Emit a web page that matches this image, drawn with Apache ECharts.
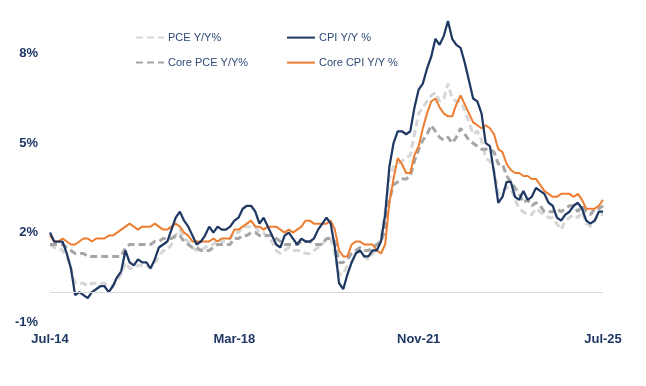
<!DOCTYPE html>
<html>
<head>
<meta charset="utf-8">
<script src="https://cdn.jsdelivr.net/npm/echarts@6/dist/echarts.min.js"></script>
<style>
html,body{margin:0;padding:0;background:#fff;}
#chart{width:646px;height:386px;}
</style>
</head>
<body>
<div id="chart"></div>
<script>
// Monthly categories Jul-14 .. Jul-25
const monthNames = ['Jan','Feb','Mar','Apr','May','Jun','Jul','Aug','Sep','Oct','Nov','Dec'];
const categories = [];
for (let y = 2014, m = 6; y < 2025 || (y === 2025 && m <= 6); ) {
  categories.push(monthNames[m] + '-' + String(y).slice(2));
  m++; if (m === 12) { m = 0; y++; }
}
const xTickLabels = ['Jul-14', 'Mar-18', 'Nov-21', 'Jul-25'];
const yTickLabels = [-1, 2, 5, 8];

const pce = [
  1.6,1.5,1.5,1.4,1.2,0.8,
  0.3,0.3,0.3,0.2,0.3,0.3,0.3,0.3,0.2,0.2,0.4,0.6,
  1.0,0.8,0.8,0.9,0.9,0.9,0.8,1.0,1.2,1.4,1.4,1.6,
  1.9,2.1,1.8,1.7,1.5,1.4,1.4,1.5,1.6,1.6,1.8,1.7,
  1.7,1.8,2.0,2.0,2.2,2.2,2.2,2.2,2.0,2.0,1.8,1.7,
  1.4,1.3,1.4,1.5,1.4,1.4,1.4,1.3,1.3,1.4,1.5,1.6,
  1.8,1.8,1.3,0.6,0.6,0.9,1.0,1.3,1.4,1.2,1.1,1.3,
  1.5,1.8,2.7,3.8,4.2,4.3,4.4,4.5,4.6,5.3,6.0,6.2,
  6.4,6.6,6.7,6.4,6.5,7.0,6.5,6.4,6.4,6.1,5.7,5.3,
  5.4,5.1,4.5,4.4,4.1,3.3,3.4,3.5,3.5,3.1,2.8,2.7,
  2.6,2.6,2.8,2.7,2.6,2.5,2.5,2.3,2.1,2.4,2.5,2.6,
  2.5,2.7,2.3,2.2,2.4,2.6,2.6
];
const corePce = [
  1.6,1.6,1.6,1.6,1.5,1.4,
  1.3,1.3,1.3,1.2,1.2,1.2,1.2,1.2,1.2,1.2,1.2,1.2,
  1.5,1.6,1.6,1.6,1.6,1.6,1.6,1.7,1.7,1.8,1.8,1.8,
  1.9,1.9,1.7,1.6,1.5,1.5,1.4,1.4,1.4,1.5,1.6,1.6,
  1.6,1.6,1.8,1.8,1.9,1.9,2.0,2.0,1.9,1.9,1.9,1.9,
  1.8,1.7,1.6,1.6,1.6,1.6,1.7,1.7,1.7,1.6,1.6,1.6,
  1.8,1.8,1.7,1.0,1.0,1.1,1.3,1.4,1.5,1.4,1.4,1.5,
  1.6,1.7,2.1,3.1,3.6,3.7,3.8,3.8,3.9,4.4,4.8,5.1,
  5.3,5.6,5.4,5.2,5.1,5.2,5.0,5.2,5.5,5.3,5.1,5.0,
  4.9,4.8,4.8,4.8,4.7,4.3,4.3,3.9,3.7,3.5,3.3,3.0,
  3.1,2.9,3.0,2.9,2.7,2.7,2.7,2.8,2.7,2.8,2.9,2.9,
  2.7,2.9,2.7,2.6,2.8,2.8,2.9
];
const cpi = [
  2.0,1.7,1.7,1.7,1.3,0.8,
  -0.1,0.0,-0.1,-0.2,0.0,0.1,0.2,0.2,0.0,0.2,0.5,0.7,
  1.4,1.0,0.9,1.1,1.0,1.0,0.8,1.1,1.5,1.6,1.7,2.1,
  2.5,2.7,2.4,2.2,1.9,1.6,1.7,1.9,2.2,2.0,2.2,2.1,
  2.1,2.2,2.4,2.5,2.8,2.9,2.9,2.7,2.3,2.5,2.2,1.9,
  1.6,1.5,1.9,2.0,1.8,1.6,1.8,1.7,1.7,1.8,2.1,2.3,
  2.5,2.3,1.5,0.3,0.1,0.6,1.0,1.3,1.4,1.2,1.2,1.4,
  1.4,1.7,2.6,4.2,5.0,5.4,5.4,5.3,5.4,6.2,6.8,7.0,
  7.5,7.9,8.5,8.3,8.6,9.1,8.5,8.3,8.2,7.7,7.1,6.5,
  6.4,6.0,5.0,4.9,4.0,3.0,3.2,3.7,3.7,3.2,3.1,3.4,
  3.1,3.2,3.5,3.4,3.3,3.0,2.9,2.5,2.4,2.6,2.7,2.9,
  3.0,2.8,2.4,2.3,2.4,2.7,2.7
];
const coreCpi = [
  1.9,1.7,1.7,1.8,1.7,1.6,
  1.6,1.7,1.8,1.8,1.7,1.8,1.8,1.8,1.9,1.9,2.0,2.1,
  2.2,2.3,2.2,2.1,2.2,2.2,2.2,2.3,2.2,2.1,2.1,2.2,
  2.3,2.2,2.0,1.9,1.7,1.7,1.7,1.7,1.7,1.8,1.7,1.8,
  1.8,1.8,2.1,2.1,2.2,2.3,2.4,2.2,2.2,2.1,2.2,2.2,
  2.2,2.1,2.0,2.1,2.0,2.1,2.2,2.4,2.4,2.3,2.3,2.3,
  2.3,2.4,2.1,1.4,1.2,1.2,1.6,1.7,1.7,1.6,1.6,1.6,
  1.4,1.3,1.6,3.0,3.8,4.5,4.3,4.0,4.0,4.6,4.9,5.5,
  6.0,6.4,6.5,6.2,6.0,5.9,5.9,6.3,6.6,6.3,6.0,5.7,
  5.6,5.5,5.6,5.5,5.3,4.8,4.7,4.3,4.1,4.0,4.0,3.9,
  3.9,3.8,3.8,3.6,3.4,3.3,3.2,3.2,3.3,3.3,3.3,3.2,
  3.3,3.1,2.8,2.8,2.8,2.9,3.1
];

const FONT = "'Liberation Sans', Arial, sans-serif";
const NAVY = '#1f3864';

const chart = echarts.init(document.getElementById('chart'), null, {renderer: 'canvas'});

function legendAt(name, left, top) {
  return {
    data: [name], left: left, top: top,
    itemWidth: 28, itemHeight: 14, itemGap: 0,
    padding: 0,
    itemStyle: {opacity: 0},
    textStyle: {fontFamily: FONT, fontSize: 11, color: '#2f4a78', padding: [0, 0, 0, -1]},
    selectedMode: false
  };
}

chart.setOption({
  animation: false,
  backgroundColor: '#ffffff',
  grid: {left: 50, right: 43, top: 18, bottom: 64, containLabel: false},
  legend: [
    legendAt('PCE Y/Y%', 135, 32),
    legendAt('CPI Y/Y %', 286, 32),
    legendAt('Core PCE Y/Y%', 135, 57),
    legendAt('Core CPI Y/Y %', 286, 57)
  ],
  xAxis: {
    type: 'category',
    data: categories,
    boundaryGap: false,
    axisLine: {show: false, onZero: false},
    axisTick: {show: false},
    splitLine: {show: false},
    axisLabel: {
      interval: function (idx, val) { return xTickLabels.indexOf(val) >= 0; },
      margin: 11,
      fontFamily: FONT, fontSize: 13, fontWeight: 'bold', color: NAVY
    }
  },
  yAxis: {
    type: 'value',
    min: -1, max: 9.2, interval: 3,
    axisLine: {show: false},
    axisTick: {show: false},
    splitLine: {show: false},
    axisLabel: {
      margin: 12,
      fontFamily: FONT, fontSize: 13, fontWeight: 'bold', color: NAVY,
      formatter: function (v) {
        return yTickLabels.some(t => Math.abs(t - v) < 1e-6) ? Math.round(v) + '%' : '';
      }
    }
  },
  series: [
    {
      name: 'PCE Y/Y%', type: 'line', data: pce, symbol: 'none', smooth: false,
      lineStyle: {color: '#d6d6d6', width: 3, type: [7, 4]},
      itemStyle: {color: '#d6d6d6'},
      markLine: {
        silent: true, symbol: 'none', animation: false,
        label: {show: false},
        lineStyle: {color: '#d9d9d9', width: 1, type: 'solid'},
        data: [{yAxis: 0}]
      }
    },
    {
      name: 'Core PCE Y/Y%', type: 'line', data: corePce, symbol: 'none',
      lineStyle: {color: '#a6a6a6', width: 3, type: [7, 4]},
      itemStyle: {color: '#a6a6a6'}
    },
    {
      name: 'Core CPI Y/Y %', type: 'line', data: coreCpi, symbol: 'none',
      lineStyle: {color: '#ed7d31', width: 2},
      itemStyle: {color: '#ed7d31'}
    },
    {
      name: 'CPI Y/Y %', type: 'line', data: cpi, symbol: 'none',
      lineStyle: {color: NAVY, width: 2.25},
      itemStyle: {color: NAVY}
    }
  ]
});
</script>
</body>
</html>
